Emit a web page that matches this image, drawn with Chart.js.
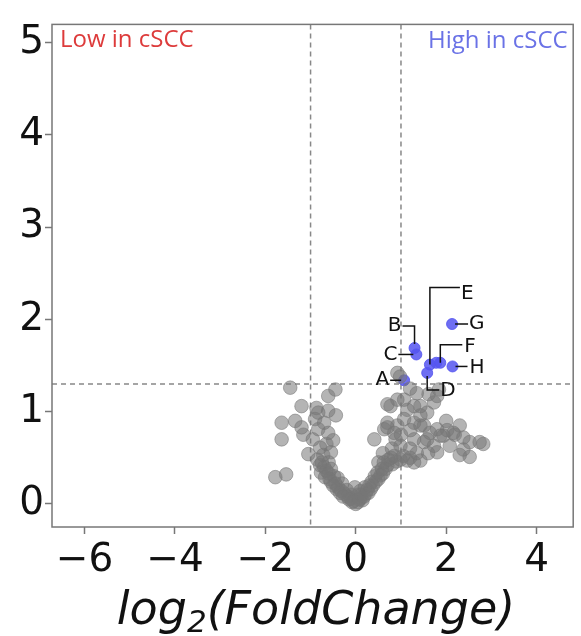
<!DOCTYPE html>
<html>
<head>
<meta charset="utf-8">
<script src="https://cdn.jsdelivr.net/npm/chart.js@4.4.1/dist/chart.umd.min.js"></script>
<style>
  body { margin: 0; background: #fff; }
  #wrap { width: 581px; height: 636px; position: relative; }
</style>
</head>
<body>
<div id="wrap"><canvas id="volcano"></canvas></div>
<script>
// non-significant genes: log2 fold change / -log10 p
const grayFC = [
  -1.45, -1.20, -0.87, -0.61, -0.45, -0.83, -0.61, -0.44, -1.64, -1.34, -1.20, -1.16, -1.64, -0.83, -0.61, -0.50,
  -1.05, -0.79, -0.72, -0.55, -1.78, -1.54, -0.79, -0.77, -0.68, -0.90, -0.70, -0.95, -0.65, -0.85, -0.60, -0.55, -0.48,
  -0.55, -0.39, -0.25, -0.11, 0.00, 0.11, 0.22, 0.33, 0.44, 0.55, 0.66, 0.81,
  -0.45, -0.32, -0.18, -0.05, 0.05, 0.15, 0.28, 0.38, 0.50, 0.60, -0.20, -0.10, 0.05, 0.20, 0.10, -0.30, -0.40, 0.70, 0.90, -0.02,
  -0.75, -0.70, -0.65, -0.60, -0.58, -0.50, -0.42, -0.35, -0.28, -0.15, -0.08, 0.08, 0.12, 0.18, 0.25, 0.30, 0.35, 0.42, 0.48, 0.58, 0.62, 0.72, 0.78, 0.85,
  0.99, 1.14, 1.29, 1.43, 0.41, 0.63, 0.70, 0.85, 0.88, 0.99, 0.77, 1.07, 1.14, 1.07, 1.29, 1.21,
  1.43, 1.58, 1.73, 1.80, 1.84, 1.51, 1.64, 1.51, 1.73, 1.80, 1.87, 2.02, 2.19, 2.38, 2.52, 2.74, 2.52, 2.30,
  1.43, 1.80, 1.58, 1.94, 2.16, 2.08, 2.38, 2.82, 1.61, 0.92, 0.98, 0.70, 0.92, 1.29, 0.92, 0.70, 1.43, 1.29,
  1.00, 1.20, 0.80, 1.60, 2.00, 2.30, 0.60, 0.50, 1.20, 1.35, 1.05, 1.20, 1.35
];
const grayP = [
  1.26, 1.06, 1.04, 1.17, 1.24, 0.99, 1.01, 0.96, 0.88, 0.90, 0.83, 0.75, 0.70, 0.81, 0.77, 0.69,
  0.54, 0.61, 0.53, 0.56, 0.29, 0.32, 0.42, 0.34, 0.29, 0.92, 0.88, 0.70, 0.65, 0.48, 0.45, 0.38, 0.30,
  0.24, 0.18, 0.11, 0.06, 0.00, 0.06, 0.11, 0.16, 0.24, 0.31, 0.38, 0.43,
  0.22, 0.14, 0.08, 0.03, 0.02, 0.04, 0.12, 0.20, 0.27, 0.33, 0.15, 0.10, 0.10, 0.18, 0.14, 0.22, 0.28, 0.42, 0.46, 0.18,
  0.45, 0.40, 0.36, 0.33, 0.27, 0.20, 0.16, 0.12, 0.08, 0.05, 0.02, 0.05, 0.10, 0.08, 0.15, 0.20, 0.24, 0.30, 0.34, 0.38, 0.45, 0.48, 0.50, 0.52,
  0.48, 0.47, 0.45, 0.47, 0.70, 0.81, 0.88, 0.77, 0.70, 0.63, 1.06, 1.13, 1.02, 0.92, 0.88, 0.80,
  1.06, 0.99, 1.10, 1.17, 1.24, 0.85, 0.77, 0.67, 0.63, 0.56, 0.74, 0.80, 0.75, 0.72, 0.67, 0.67, 0.51, 0.53,
  0.96, 0.81, 0.70, 0.74, 0.77, 0.63, 0.59, 0.65, 1.19, 1.42, 1.38, 1.08, 1.13, 1.06, 0.85, 0.83, 0.85, 0.70,
  0.75, 0.60, 0.60, 0.55, 0.90, 0.85, 0.55, 0.45, 1.25, 1.20, 0.52, 0.50, 0.55
];

// significant genes (high in cSCC)
const sigFC = [1.07, 1.30, 1.34, 1.58, 1.64, 1.78, 1.87, 2.14, 2.13];
const sigP = [1.34, 1.69, 1.62, 1.42, 1.51, 1.53, 1.53, 1.49, 1.95];
const sigLabels = ['A', 'B', 'C', 'D', 'E', '', 'F', 'H', 'G'];

const xTicks = [-6, -4, -2, 0, 2, 4];
const yTicks = [0, 1, 2, 3, 4, 5];
const fcCut = 1;
const pCut = 1.301;

// leader lines, pixel offsets from the point
const leaders = {
  A: { path: [[-3, 0], [-14, 0]], text: [-15, 0], align: 'right' },
  B: { path: [[0, -4], [0, -22], [-12, -22]], text: [-13, -22], align: 'right' },
  C: { path: [[-3, 0], [-18, 0]], text: [-19, 0], align: 'right' },
  D: { path: [[0, 3], [0, 17], [12, 17]], text: [13, 18], align: 'left' },
  E: { path: [[0, 0], [0, -77], [30, -77]], text: [31, -71], align: 'left' },
  F: { path: [[0, 0], [0, -18], [22, -18]], text: [24, -16], align: 'left' },
  G: { path: [[3, 0], [16, 0]], text: [17, 0], align: 'left' },
  H: { path: [[3, 0], [15, 0]], text: [17, 1], align: 'left' }
};

const FAMILY = '"DejaVu Sans", DejaVuSans, Verdana, sans-serif';

const toPts = (xs, ys) => xs.map((v, i) => ({ x: v, y: ys[i] }));

const overlay = {
  id: 'overlay',
  beforeDatasetsDraw(chart) {
    const { ctx, chartArea: a, scales: { x, y } } = chart;
    ctx.save();
    ctx.strokeStyle = '#888';
    ctx.lineWidth = 1.5;
    ctx.setLineDash([5, 4]);
    [-fcCut, fcCut].forEach(v => {
      const px = x.getPixelForValue(v);
      ctx.beginPath(); ctx.moveTo(px, a.top); ctx.lineTo(px, a.bottom); ctx.stroke();
    });
    const py = y.getPixelForValue(pCut);
    ctx.beginPath(); ctx.moveTo(a.left, py); ctx.lineTo(a.right, py); ctx.stroke();
    ctx.restore();
  },
  afterDatasetsDraw(chart) {
    const { ctx, chartArea: a, scales: { x, y } } = chart;
    ctx.save();
    // box
    ctx.strokeStyle = '#777';
    ctx.lineWidth = 1.5;
    ctx.strokeRect(a.left, a.top, a.right - a.left, a.bottom - a.top);

    // gene labels
    ctx.strokeStyle = '#111';
    ctx.fillStyle = '#111';
    ctx.lineWidth = 1.5;
    ctx.font = '20px ' + FAMILY;
    ctx.textBaseline = 'middle';
    sigLabels.forEach((lab, i) => {
      const l = leaders[lab];
      if (!l) return;
      const px = x.getPixelForValue(sigFC[i]);
      const py = y.getPixelForValue(sigP[i]);
      ctx.beginPath();
      l.path.forEach((p, k) => k ? ctx.lineTo(px + p[0], py + p[1]) : ctx.moveTo(px + p[0], py + p[1]));
      ctx.stroke();
      ctx.textAlign = l.align;
      ctx.fillText(lab, px + l.text[0], py + l.text[1]);
    });

    // region texts
    ctx.textBaseline = 'alphabetic';
    ctx.textAlign = 'left';
    ctx.font = '24px "Open Sans"';
    ctx.fillStyle = '#dd3b3b';
    ctx.fillText('Low in cSCC', 60, 47);
    ctx.fillStyle = '#6a72e6';
    ctx.fillText('High in cSCC', 428, 48);

    // x title with subscript
    ctx.fillStyle = '#111';
    const big = 'italic 46px ' + FAMILY;
    const small = 'italic 31px ' + FAMILY;
    ctx.font = big;
    const w1 = ctx.measureText('log').width;
    const w3 = ctx.measureText('(FoldChange)').width;
    ctx.font = small;
    const w2 = ctx.measureText('2').width;
    let sx = 316 - (w1 + w2 + w3) / 2;
    const base = 624;
    ctx.font = big; ctx.fillText('log', sx, base); sx += w1;
    ctx.font = small; ctx.fillText('2', sx, base + 8); sx += w2;
    ctx.font = big; ctx.fillText('(FoldChange)', sx, base);
    ctx.restore();
  }
};

const tickFont = { family: FAMILY, size: 39 };
const minus = v => String(v).replace('-', '\u2212');

new Chart(document.getElementById('volcano'), {
  type: 'scatter',
  data: {
    datasets: [
      {
        data: toPts(grayFC, grayP),
        backgroundColor: 'rgba(118,118,118,0.55)',
        borderColor: 'rgba(118,118,118,0.55)',
        borderWidth: 1,
        pointRadius: 6.8
      },
      {
        data: toPts(sigFC, sigP),
        backgroundColor: 'rgba(85,85,240,0.85)',
        borderColor: 'rgba(85,85,240,0.85)',
        borderWidth: 1,
        pointRadius: 5.5
      }
    ]
  },
  options: {
    responsive: true,
    maintainAspectRatio: false,
    animation: false,
    events: [],
    layout: { padding: { top: 15, right: 4, left: 0, bottom: 0 } },
    plugins: { legend: { display: false }, tooltip: { enabled: false } },
    scales: {
      x: {
        type: 'linear',
        min: -6.72, max: 4.81,
        afterBuildTicks: s => { s.ticks = xTicks.map(v => ({ value: v })); },
        afterFit: s => { s.height = 109; },
        grid: { drawOnChartArea: false, tickLength: 7, tickColor: '#777', tickWidth: 1.5 },
        border: { display: false },
        ticks: { font: tickFont, color: '#111', padding: 3, maxRotation: 0, callback: minus }
      },
      y: {
        type: 'linear',
        min: -0.25, max: 5.197,
        afterBuildTicks: s => { s.ticks = yTicks.map(v => ({ value: v })); },
        afterFit: s => { s.width = 52; },
        grid: { drawOnChartArea: false, tickLength: 7, tickColor: '#777', tickWidth: 1.5 },
        border: { display: false },
        ticks: { font: tickFont, color: '#111', padding: 1, callback: minus }
      }
    }
  },
  plugins: [overlay]
});
</script>
</body>
</html>
